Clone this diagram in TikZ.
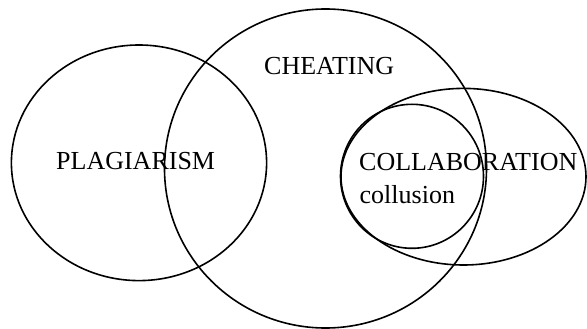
\documentclass[tikz,border=0pt]{standalone}
\usepackage{fontspec}
\setmainfont{Liberation Serif}
\usetikzlibrary{shapes.geometric}
\begin{document}
\begin{tikzpicture}[x=1pt,y=-1pt,
  setshape/.style={draw=black, ellipse, line width=1.6pt, inner sep=0pt, outer sep=0pt},
  label/.style={anchor=base west, inner sep=0pt, font=\fontsize{26}{31}\selectfont}]
\useasboundingbox (0,0) rectangle (587,329);
\node[setshape, minimum width=255.2pt, minimum height=235.6pt] (plag) at (139,162.8) {};
\node[setshape, minimum width=322pt, minimum height=319pt] (cheat) at (325.5,168.5) {};
\node[setshape, minimum width=245pt, minimum height=176.6pt] (collab) at (463.5,176.7) {};
\node[setshape, minimum width=143pt, minimum height=144pt] (collus) at (412,176.3) {};
\node[label] (tplag) at (56,169) {PLAGIARISM};
\node[label] (tcheat) at (264,75) {CHEATING};
\node[label] (tcollab) at (359,170) {COLLABORATION};
\node[label] (tcollus) at (359.5,203) {collusion};
\end{tikzpicture}
\end{document}
